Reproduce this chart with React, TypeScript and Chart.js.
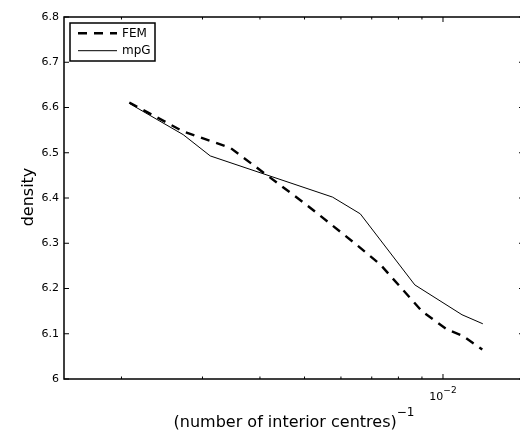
import React, { useEffect, useRef } from 'react';
import { Chart, registerables } from 'chart.js';

Chart.register(...registerables);

const FONT = '"DejaVu Sans", sans-serif';

const seriesNames = ['FEM', 'mpG'];
const femX = [0.00208, 0.002724, 0.003448, 0.00502, 0.006447, 0.007306, 0.009016, 0.010218, 0.011015, 0.012175];
const femY = [6.611, 6.547, 6.511, 6.387, 6.299, 6.253, 6.149, 6.109, 6.096, 6.065];
const mpgX = [0.00208, 0.002724, 0.003119, 0.005753, 0.00661, 0.008684, 0.010998, 0.012206];
const mpgY = [6.609, 6.54, 6.493, 6.402, 6.365, 6.208, 6.142, 6.122];

const xTickValues = [0.002, 0.003, 0.004, 0.005, 0.006, 0.007, 0.008, 0.009, 0.01];
const xMajorTicks = [0.01];
const xTickLabels = [{ base: '10', exp: '\u22122' }];
const yTickLabels = ['6', '6.1', '6.2', '6.3', '6.4', '6.5', '6.6', '6.7', '6.8'];
const xTitle = '(number of interior centres)';
const xTitleExp = '\u22121';
const yTitle = 'density';

const decorPlugin = {
  id: 'matlabDecor',
  afterDraw(chart: any) {
    const ctx = chart.ctx as CanvasRenderingContext2D;
    const { left, right, top, bottom } = chart.chartArea;
    const xs = chart.scales.x;
    const ys = chart.scales.y;
    const line = (x1: number, y1: number, x2: number, y2: number) => {
      ctx.beginPath();
      ctx.moveTo(x1, y1);
      ctx.lineTo(x2, y2);
      ctx.stroke();
    };
    ctx.save();
    ctx.strokeStyle = '#000';
    ctx.fillStyle = '#000';
    ctx.setLineDash([]);
    ctx.lineWidth = 1;
    ys.ticks.forEach((t: any) => {
      const py = ys.getPixelForValue(t.value);
      line(left, py, left + 5, py);
      line(right - 5, py, right, py);
    });
    xs.ticks.forEach((t: any) => {
      const px = xs.getPixelForValue(t.value);
      const len = xMajorTicks.includes(t.value) ? 5 : 2.5;
      line(px, bottom, px, bottom - len);
      line(px, top, px, top + len);
    });
    ctx.lineWidth = 1.5;
    ctx.strokeRect(left, top, right - left, bottom - top);

    // x tick labels
    ctx.textAlign = 'left';
    ctx.textBaseline = 'alphabetic';
    xMajorTicks.forEach((v, i) => {
      const px = xs.getPixelForValue(v);
      const lab = xTickLabels[i];
      ctx.font = `11px ${FONT}`;
      const w1 = ctx.measureText(lab.base).width;
      ctx.font = `9px ${FONT}`;
      const w2 = ctx.measureText(lab.exp).width;
      const sx = px - (w1 + w2) / 2;
      ctx.font = `11px ${FONT}`;
      ctx.fillText(lab.base, sx, bottom + 21);
      ctx.font = `9px ${FONT}`;
      ctx.fillText(lab.exp, sx + w1, bottom + 14);
    });

    // x title
    ctx.font = `16px ${FONT}`;
    const tw = ctx.measureText(xTitle).width;
    ctx.font = `12px ${FONT}`;
    const ew = ctx.measureText(xTitleExp).width;
    const cx = (left + right) / 2;
    const tx = cx - (tw + ew) / 2;
    ctx.font = `16px ${FONT}`;
    ctx.fillText(xTitle, tx, bottom + 47.5);
    ctx.font = `12px ${FONT}`;
    ctx.fillText(xTitleExp, tx + tw, bottom + 37);

    // y title
    ctx.save();
    ctx.translate(33, (top + bottom) / 2 - 1);
    ctx.rotate(-Math.PI / 2);
    ctx.textAlign = 'center';
    ctx.font = `16px ${FONT}`;
    ctx.fillText(yTitle, 0, 0);
    ctx.restore();

    // legend
    const lx = left + 6;
    const ly = top + 6;
    const lw = 85;
    const lh = 38;
    ctx.fillStyle = '#fff';
    ctx.fillRect(lx, ly, lw, lh);
    ctx.lineWidth = 1.5;
    ctx.strokeStyle = '#000';
    ctx.strokeRect(lx, ly, lw, lh);
    ctx.fillStyle = '#000';
    ctx.font = `12px ${FONT}`;
    ctx.textBaseline = 'middle';
    ctx.textAlign = 'left';
    chart.data.datasets.forEach((ds: any, i: number) => {
      const ry = ly + 10.3 + i * 17.4;
      ctx.save();
      ctx.lineWidth = ds.borderWidth;
      ctx.lineCap = 'butt';
      ctx.setLineDash(ds.borderDash || []);
      line(lx + 8, ry, lx + 47, ry);
      ctx.restore();
      ctx.fillText(ds.label, lx + 52, ry + 0.5);
    });
    ctx.restore();
  },
};

export default function App() {
  const ref = useRef<HTMLCanvasElement | null>(null);
  useEffect(() => {
    if (!ref.current) return;
    const chart = new Chart(ref.current, {
      type: 'line',
      data: {
        datasets: [
          {
            label: seriesNames[0],
            data: femX.map((x, i) => ({ x, y: femY[i] })),
            borderColor: '#000',
            borderWidth: 2.4,
            borderDash: [9, 7],
            pointRadius: 0,
            tension: 0,
            fill: false,
          },
          {
            label: seriesNames[1],
            data: mpgX.map((x, i) => ({ x, y: mpgY[i] })),
            borderColor: '#000',
            borderWidth: 1,
            pointRadius: 0,
            tension: 0,
            fill: false,
          },
        ],
      },
      options: {
        responsive: false,
        animation: false,
        devicePixelRatio: 1,
        layout: { padding: { left: 0, top: 17, right: 16, bottom: 0 } },
        plugins: { legend: { display: false }, tooltip: { enabled: false } },
        scales: {
          x: {
            type: 'logarithmic',
            min: 0.0015,
            max: 0.015,
            grid: { display: false, drawTicks: false },
            border: { display: false },
            ticks: { display: false },
            afterBuildTicks: (scale: any) => {
              scale.ticks = xTickValues.map((value) => ({ value }));
            },
            afterFit: (scale: any) => {
              scale.height = 53;
            },
          },
          y: {
            type: 'linear',
            min: 6,
            max: 6.8,
            grid: { display: false, drawTicks: false },
            border: { display: false },
            ticks: {
              stepSize: 0.1,
              padding: 5,
              color: '#000',
              font: { family: FONT, size: 11 },
              callback: (_v: any, i: number) => yTickLabels[i],
            },
            afterFit: (scale: any) => {
              scale.width = 64;
            },
          },
        },
      } as any,
      plugins: [decorPlugin],
    });
    return () => chart.destroy();
  }, []);
  return (
    <div style={{ position: 'fixed', left: 0, top: 0, width: 520, height: 432, overflow: 'hidden', background: '#fff' }}>
      <canvas ref={ref} width={540} height={432} style={{ display: 'block' }} />
    </div>
  );
}
